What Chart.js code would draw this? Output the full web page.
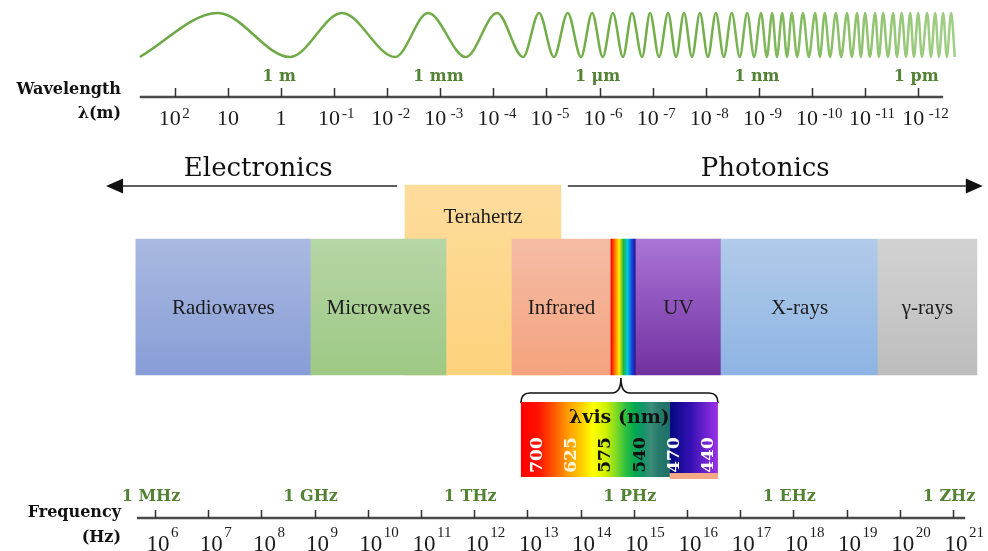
<!DOCTYPE html>
<html lang="en">
<head>
<meta charset="utf-8">
<title>Electromagnetic spectrum</title>
<script src="https://cdn.jsdelivr.net/npm/chart.js@4.4.1/dist/chart.umd.min.js"></script>
<style>
  html, body { margin: 0; padding: 0; background: #ffffff; }
  canvas { display: block; }
</style>
</head>
<body>
<canvas id="spectrum" width="988" height="551"></canvas>
<script>
// ---- Data ---------------------------------------------------------------
// Spectral bands, edges in log10(frequency / Hz)
const bandLabels = ['Radiowaves', 'Microwaves', 'Infrared', '', 'UV', 'X-rays', 'γ-rays'];
const bandStart  = [5.64, 8.93, 12.71, 14.57, 15.04, 16.64, 19.59];
const bandEnd    = [8.93, 11.47, 14.57, 15.04, 16.64, 19.59, 21.45];
const VISIBLE = 3; // the narrow rainbow band

// Terahertz gap, log10(frequency / Hz)
const terahertzLabel = 'Terahertz';
const terahertzRange = [10.70, 13.63];

// Regimes shown with arrows
const regimeLabels = ['Electronics', 'Photonics'];

// Wavelength axis: tick exponents of λ in metres, plus unit marks
const wavelengthExponents = [2, 1, 0, -1, -2, -3, -4, -5, -6, -7, -8, -9, -10, -11, -12];
const wavelengthUnitLabels = ['1 m', '1 mm', '1 μm', '1 nm', '1 pm'];
const wavelengthUnitExponents = [0, -3, -6, -9, -12];

// Frequency axis: tick exponents of f in Hz, plus unit marks
const frequencyExponents = [6, 7, 8, 9, 10, 11, 12, 13, 14, 15, 16, 17, 18, 19, 20, 21];
const frequencyUnitLabels = ['1 MHz', '1 GHz', '1 THz', '1 PHz', '1 EHz', '1 ZHz'];
const frequencyUnitExponents = [6, 9, 12, 15, 18, 21];

// Visible window, wavelengths in nm
const visibleWavelengths = [700, 625, 575, 540, 470, 440];

// Wave crests and troughs along the wavelength axis, in -log10(λ / m)
const waveCrests = [-1.19, 1.15, 2.77, 4.07, 4.86, 5.40, 5.86, 6.25, 6.61, 6.95, 7.29, 7.59, 7.89,
  8.19, 8.49, 8.78, 9.04, 9.25, 9.44, 9.62, 9.83, 10.06, 10.24, 10.45, 10.66, 10.85, 11.00,
  11.19, 11.34, 11.53, 11.69, 11.85, 12.00, 12.17, 12.32, 12.47, 12.62];
const waveTroughs = [-2.66, 0.17, 2.15, 3.48, 4.56, 5.14, 5.65, 6.06, 6.44, 6.80, 7.12, 7.44, 7.74,
  8.04, 8.34, 8.64, 8.91, 9.15, 9.34, 9.53, 9.72, 9.94, 10.15, 10.34, 10.55, 10.75, 10.92,
  11.09, 11.26, 11.43, 11.60, 11.77, 11.92, 12.07, 12.24, 12.39, 12.54, 12.69];

// ---- Layout (scale windows and rows of the diagram) ---------------------
const VIEW = { freq: [3.0865, 21.658], wave: [-5.292, 13.315], rows: [0, 551] };
const LAYOUT = {
  waveCrestRow: 13, waveTroughRow: 57,
  wlAxisRow: 97, wlTickLen: 9, wlAxisSpan: [-2.66, 12.47],
  wlUnitRow: 81, wlUnitShift: -2, wlLabelRow: 125, wlSupRow: 118, wlLabelShift: -5,
  fqAxisRow: 518, fqTickLen: 8, fqAxisSpan: [5.66, 21.23],
  fqUnitRow: 501, fqUnitShift: -4, fqLabelRow: 550.5, fqSupRow: 537, fqLabelShift: 3,
  titleRight: 121, wlTitleRows: [94, 118], fqTitleRows: [517, 542],
  regimeArrowRow: 186, regimeTextRow: 176,
  regimeArrows: [[10.55, 5.08], [13.76, 21.56]], regimeTextAt: [7.94, 17.47],
  thzTop: 185, bandTop: 239, bandBottom: 375, thzLabelRow: 223, bandLabelRow: 314,
  insetTop: 402, insetBottom: 477, insetWidth: 197, insetShift: -4, insetSplit: 0.755,
  braceRow: 393, braceTip: 378, braceShift: -2.5,
  visTitleRow: 423, visNumberRow: 455, visNumberStart: 0.074, visNumberStep: 0.174
};

const STYLE = {
  bandTop:    ['#A9B9E1', '#B6D6A6', '#F5BCA5', null, '#AA74D6', '#B1CBE9', '#D3D3D3'],
  bandBottom: ['#889DD6', '#9DC984', '#F5A37E', null, '#7131A0', '#8EB4E3', '#BDBDBD'],
  rainbow: ['#FF0000', '#FF7A00', '#FFEF00', '#22B43C', '#00C8E0', '#1448E0', '#2A0A8A'],
  thz: ['#FEDC9C', '#FDD27C'],
  wave: ['#6CA843', '#74AF4C', '#A2CE86'],
  unit: '#548235', text: '#1c1c1c', axis: '#4a4a4a', tick: '#333333',
  insetStops: [[0, '#FF0000'], [0.09, '#FF1400'], [0.17, '#FF5A00'], [0.23, '#FF9500'],
    [0.30, '#FFC800'], [0.365, '#FFFF00'], [0.43, '#D2F000'], [0.48, '#84DC22'],
    [0.53, '#30C040'], [0.58, '#00A850'], [0.62, '#12946A'], [0.66, '#3C8C78'],
    [0.70, '#267A6A'], [0.755, '#1E6E6A'], [0.755, '#00087E'], [0.86, '#3410B2'], [1, '#9B32E6']],
  insetStrip: '#F4A886',
  visNumberColors: ['#FFFFFF', '#FFF6DC', '#111111', '#111111', '#FFFFFF', '#FFFFFF']
};

const FONTS = {
  band: '21px "Liberation Serif", serif',
  regime: '26px "DejaVu Serif", serif',
  title: 'bold 16px "DejaVu Serif", serif',
  unit: 'bold 16px "DejaVu Serif", serif',
  wlBase: '22px "Liberation Serif", serif', wlSup: '15px "Liberation Serif", serif',
  fqBase: '23px "Liberation Serif", serif', fqSup: '15px "Liberation Serif", serif',
  visTitle: 'bold 19px "DejaVu Serif", serif',
  visNumber: 'bold 17px "DejaVu Serif", serif'
};

// ---- Helpers ------------------------------------------------------------
const wavePoints = waveTroughs.map(x => ({ x, y: -1 }))
  .concat(waveCrests.map(x => ({ x, y: 1 })))
  .sort((a, b) => a.x - b.x);

// amplitude ±1 mapped onto the crest / trough rows
const waveUnit = 2 / (LAYOUT.waveTroughRow - LAYOUT.waveCrestRow);
const waveMax = 1 + LAYOUT.waveCrestRow * waveUnit;
const waveMin = waveMax - (VIEW.rows[1] - VIEW.rows[0]) * waveUnit;

function verticalFill(chart, top, bottom, c0, c1) {
  const y = chart.scales.y;
  const g = chart.ctx.createLinearGradient(0, y.getPixelForValue(top), 0, y.getPixelForValue(bottom));
  g.addColorStop(0, c0);
  g.addColorStop(1, c1);
  return g;
}

function bandFill(context) {
  const chart = context.chart;
  const i = context.dataIndex;
  if (context.type !== 'data' || !chart.chartArea) return 'rgba(0,0,0,0)';
  if (i === VISIBLE) {
    const x = chart.scales.x;
    const g = chart.ctx.createLinearGradient(x.getPixelForValue(bandStart[i]), 0, x.getPixelForValue(bandEnd[i]), 0);
    STYLE.rainbow.forEach((c, k) => g.addColorStop(k / (STYLE.rainbow.length - 1), c));
    return g;
  }
  return verticalFill(chart, LAYOUT.bandTop, LAYOUT.bandBottom, STYLE.bandTop[i], STYLE.bandBottom[i]);
}

function terahertzFill(context) {
  const chart = context.chart;
  if (context.type !== 'data' || !chart.chartArea) return STYLE.thz[1];
  return verticalFill(chart, LAYOUT.thzTop, LAYOUT.bandBottom, STYLE.thz[0], STYLE.thz[1]);
}

function waveStroke(context) {
  const chart = context.chart;
  if (!chart.chartArea) return STYLE.wave[0];
  const xw = chart.scales.xw;
  const g = chart.ctx.createLinearGradient(xw.getPixelForValue(waveTroughs[0]), 0,
    xw.getPixelForValue(waveTroughs[waveTroughs.length - 1]), 0);
  g.addColorStop(0, STYLE.wave[0]);
  g.addColorStop(0.7, STYLE.wave[1]);
  g.addColorStop(1, STYLE.wave[2]);
  return g;
}

function drawArrow(c, x0, x1, y) {
  const dir = Math.sign(x1 - x0), head = 17, half = 7.5;
  c.beginPath();
  c.moveTo(x0, y);
  c.lineTo(x1 - dir * head, y);
  c.stroke();
  c.beginPath();
  c.moveTo(x1, y);
  c.lineTo(x1 - dir * head, y - half);
  c.lineTo(x1 - dir * head, y + half);
  c.closePath();
  c.fill();
}

function drawAxis(c, toPx, span, ticks, row, len) {
  c.strokeStyle = STYLE.axis;
  c.lineWidth = 2.5;
  c.beginPath();
  c.moveTo(toPx(span[0]), row);
  c.lineTo(toPx(span[1]), row);
  c.stroke();
  c.strokeStyle = STYLE.tick;
  c.lineWidth = 1.5;
  c.beginPath();
  ticks.forEach(t => {
    const x = Math.round(toPx(t)) + 0.5;
    c.moveTo(x, row);
    c.lineTo(x, row - len);
  });
  c.stroke();
}

// "10" with a raised exponent
function drawPower(c, x, base, sup, o) {
  c.font = o.baseFont;
  const bw = c.measureText(base).width;
  const left = x + (sup ? o.shift : 0) - bw / 2;
  c.textAlign = 'left';
  c.fillText(base, left, o.row);
  if (sup) {
    const gap = sup[0] === '-' ? (sup === '-1' ? 2 : 4.5) : 1.5;
    c.font = o.supFont;
    c.fillText(sup, left + bw + gap, o.supRow);
  }
}

const annotations = {
  id: 'spectrumAnnotations',
  afterDatasetsDraw(chart) {
    const c = chart.ctx;
    const fx = v => chart.scales.x.getPixelForValue(v);
    const wx = v => chart.scales.xw.getPixelForValue(v);
    const ry = v => chart.scales.y.getPixelForValue(v);
    c.save();
    c.textBaseline = 'alphabetic';

    // band names
    const bands = chart.getDatasetMeta(1).data;
    const thz = chart.getDatasetMeta(0).data[0];
    c.fillStyle = STYLE.text;
    c.font = FONTS.band;
    c.textAlign = 'center';
    bands.forEach((bar, i) => {
      if (bandLabels[i]) c.fillText(bandLabels[i], bar.getCenterPoint().x, ry(LAYOUT.bandLabelRow));
    });
    c.fillText(terahertzLabel, thz.getCenterPoint().x, ry(LAYOUT.thzLabelRow));

    // electronics / photonics
    c.font = FONTS.regime;
    c.fillStyle = '#111111';
    c.strokeStyle = '#2a2a2a';
    c.lineWidth = 1.5;
    regimeLabels.forEach((label, i) => {
      c.textAlign = 'center';
      c.fillText(label, fx(LAYOUT.regimeTextAt[i]), ry(LAYOUT.regimeTextRow));
      const [a, b] = LAYOUT.regimeArrows[i];
      drawArrow(c, fx(a), fx(b), ry(LAYOUT.regimeArrowRow));
    });

    // wavelength axis
    drawAxis(c, wx, LAYOUT.wlAxisSpan, wavelengthExponents.map(e => -e), ry(LAYOUT.wlAxisRow), LAYOUT.wlTickLen);
    c.fillStyle = STYLE.text;
    wavelengthExponents.forEach(e => {
      const base = e === 0 ? '1' : '10';
      const sup = e >= 2 ? String(e) : (e < 0 ? '-' + (-e) : '');
      drawPower(c, wx(-e), base, sup, {
        baseFont: FONTS.wlBase, supFont: FONTS.wlSup,
        row: ry(LAYOUT.wlLabelRow), supRow: ry(LAYOUT.wlSupRow), shift: LAYOUT.wlLabelShift
      });
    });
    c.fillStyle = STYLE.unit;
    c.font = FONTS.unit;
    c.textAlign = 'center';
    wavelengthUnitLabels.forEach((label, i) => {
      c.fillText(label, wx(-wavelengthUnitExponents[i]) + LAYOUT.wlUnitShift, ry(LAYOUT.wlUnitRow));
    });

    // frequency axis
    drawAxis(c, fx, LAYOUT.fqAxisSpan, frequencyExponents, ry(LAYOUT.fqAxisRow), LAYOUT.fqTickLen);
    c.fillStyle = STYLE.text;
    frequencyExponents.forEach(e => {
      drawPower(c, fx(e), '10', String(e), {
        baseFont: FONTS.fqBase, supFont: FONTS.fqSup,
        row: ry(LAYOUT.fqLabelRow), supRow: ry(LAYOUT.fqSupRow), shift: LAYOUT.fqLabelShift
      });
    });
    c.fillStyle = STYLE.unit;
    c.font = FONTS.unit;
    c.textAlign = 'center';
    frequencyUnitLabels.forEach((label, i) => {
      c.fillText(label, fx(frequencyUnitExponents[i]) + LAYOUT.fqUnitShift, ry(LAYOUT.fqUnitRow));
    });

    // axis titles
    c.fillStyle = '#111111';
    c.font = FONTS.title;
    c.textAlign = 'right';
    c.fillText('Wavelength', LAYOUT.titleRight, ry(LAYOUT.wlTitleRows[0]));
    c.fillText('λ(m)', LAYOUT.titleRight, ry(LAYOUT.wlTitleRows[1]));
    c.fillText('Frequency', LAYOUT.titleRight, ry(LAYOUT.fqTitleRows[0]));
    c.fillText('(Hz)', LAYOUT.titleRight, ry(LAYOUT.fqTitleRows[1]));

    // visible-light inset hanging from the rainbow band
    const cx = bands[VISIBLE].getCenterPoint().x;
    const L = cx + LAYOUT.insetShift - LAYOUT.insetWidth / 2;
    const R = L + LAYOUT.insetWidth;
    const top = ry(LAYOUT.insetTop), bot = ry(LAYOUT.insetBottom);
    const bx = cx + LAYOUT.braceShift, by = ry(LAYOUT.braceRow), tip = ry(LAYOUT.braceTip);
    c.strokeStyle = '#111111';
    c.lineWidth = 1.6;
    c.beginPath();
    c.moveTo(L, top + 1);
    c.quadraticCurveTo(L, by, L + 9, by);
    c.lineTo(bx - 9, by);
    c.quadraticCurveTo(bx, by, bx, tip);
    c.moveTo(bx, tip);
    c.quadraticCurveTo(bx, by, bx + 9, by);
    c.lineTo(R - 9, by);
    c.quadraticCurveTo(R, by, R, top + 1);
    c.stroke();

    const g = c.createLinearGradient(L, 0, R, 0);
    STYLE.insetStops.forEach(([o, col]) => g.addColorStop(o, col));
    c.fillStyle = g;
    c.fillRect(L, top, R - L, bot - top);
    const split = L + LAYOUT.insetSplit * (R - L);
    c.fillStyle = STYLE.insetStrip;
    c.fillRect(split, bot - 4, R - split, 6);

    c.fillStyle = '#111111';
    c.font = FONTS.visTitle;
    c.textAlign = 'center';
    c.fillText('λvis (nm)', (L + R) / 2, ry(LAYOUT.visTitleRow));

    c.font = FONTS.visNumber;
    visibleWavelengths.forEach((nm, i) => {
      const x = L + (R - L) * (LAYOUT.visNumberStart + i * LAYOUT.visNumberStep);
      c.save();
      c.translate(x, ry(LAYOUT.visNumberRow));
      c.rotate(-Math.PI / 2);
      c.textAlign = 'center';
      c.fillStyle = STYLE.visNumberColors[i];
      c.fillText(String(nm), 0, 6.2);
      c.restore();
    });

    c.restore();
  }
};

new Chart(document.getElementById('spectrum'), {
  type: 'bar',
  data: {
    datasets: [
      {
        label: terahertzLabel,
        indexAxis: 'y', xAxisID: 'x', yAxisID: 'y',
        data: [{ x: terahertzRange, y: (LAYOUT.thzTop + LAYOUT.bandBottom) / 2 }],
        barThickness: LAYOUT.bandBottom - LAYOUT.thzTop,
        grouped: false, borderWidth: 0, order: 3,
        backgroundColor: terahertzFill
      },
      {
        label: 'Spectrum',
        indexAxis: 'y', xAxisID: 'x', yAxisID: 'y',
        data: bandStart.map((s, i) => ({ x: [s, bandEnd[i]], y: (LAYOUT.bandTop + LAYOUT.bandBottom) / 2 })),
        barThickness: LAYOUT.bandBottom - LAYOUT.bandTop,
        grouped: false, borderWidth: 0, order: 2,
        backgroundColor: bandFill
      },
      {
        type: 'line',
        label: 'Wave',
        indexAxis: 'x', xAxisID: 'xw', yAxisID: 'yWave',
        data: wavePoints,
        borderColor: waveStroke,
        borderWidth: 2.5,
        pointRadius: 0,
        fill: false,
        cubicInterpolationMode: 'monotone',
        order: 1
      }
    ]
  },
  options: {
    responsive: false,
    animation: false,
    devicePixelRatio: 1,
    events: [],
    layout: { padding: 0 },
    plugins: { legend: { display: false }, tooltip: { enabled: false } },
    scales: {
      x:  { type: 'linear', axis: 'x', min: VIEW.freq[0], max: VIEW.freq[1], display: false, offset: false },
      xw: { type: 'linear', axis: 'x', min: VIEW.wave[0], max: VIEW.wave[1], display: false, offset: false },
      y:  { type: 'linear', axis: 'y', min: VIEW.rows[0], max: VIEW.rows[1], reverse: true, display: false, offset: false, grid: { offset: false } },
      yWave: { type: 'linear', axis: 'y', min: waveMin, max: waveMax, display: false, offset: false }
    }
  },
  plugins: [annotations]
});
</script>
</body>
</html>
